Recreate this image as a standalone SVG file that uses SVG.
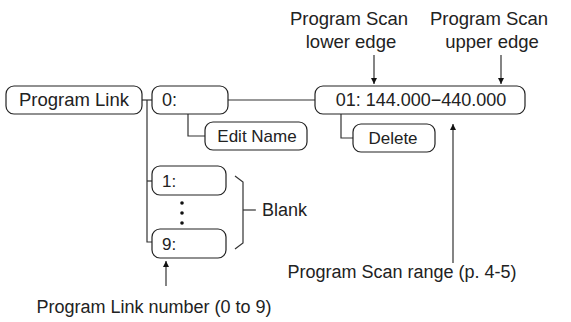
<svg xmlns="http://www.w3.org/2000/svg" width="571" height="322" viewBox="0 0 571 322">
<style>
.box{fill:#fff;stroke:#222;stroke-width:1.2}
.ln{fill:none;stroke:#333;stroke-width:1.2}
.t{font-family:"Liberation Sans",Arial,sans-serif;font-size:18px;fill:#222}
.b{font-size:18.5px}
.s{font-family:"Liberation Sans",Arial,sans-serif;font-size:17px;fill:#222}
.m{text-anchor:middle}
</style>
<defs>
<marker id="ah" viewBox="0 0 10 10" refX="10" refY="5" markerWidth="6" markerHeight="9" markerUnits="userSpaceOnUse" orient="auto">
<path d="M0,0 L10,5 L0,10 Z" fill="#111"/>
</marker>
</defs>
<g id="connectors">
<line class="ln" x1="142" y1="100" x2="152" y2="100"/>
<polyline class="ln" points="147,100 147,242 152,242"/>
<line class="ln" x1="147" y1="181" x2="152" y2="181"/>
<line class="ln" x1="228" y1="100" x2="315" y2="100"/>
<polyline class="ln" points="188,114 188,136 205,136"/>
<polyline class="ln" points="341,114 341,138 353,138"/>
<polyline class="ln" points="235,176 243,182 243,243 235,249"/>
<line class="ln" x1="243" y1="210" x2="256" y2="210"/>
<line class="ln" x1="374" y1="55" x2="374" y2="84" marker-end="url(#ah)"/>
<line class="ln" x1="501" y1="55" x2="501" y2="84" marker-end="url(#ah)"/>
<line class="ln" x1="453" y1="263" x2="453" y2="124" marker-end="url(#ah)"/>
<line class="ln" x1="166" y1="286" x2="166" y2="261" marker-end="url(#ah)"/>
</g>
<g id="program-link"><rect class="box" x="6" y="86" width="136" height="28" rx="8"/><text class="t b m" x="74" y="106">Program Link</text></g>
<g id="link-0"><rect class="box" x="152" y="86" width="76" height="28" rx="8"/><text class="t" x="162" y="106">0:</text></g>
<g id="scan-01"><rect class="box" x="315" y="86" width="210" height="28" rx="8"/><text class="t m" x="421" y="106">01: 144.000−440.000</text></g>
<g id="edit-name"><rect class="box" x="205" y="122" width="102" height="28" rx="8"/><text class="s m" x="257" y="142">Edit Name</text></g>
<g id="delete"><rect class="box" x="353" y="124" width="82" height="28" rx="8"/><text class="s m" x="393" y="144">Delete</text></g>
<g id="link-1"><rect class="box" x="152" y="166" width="74" height="29" rx="8"/><text class="s" x="162" y="187">1:</text></g>
<g id="dots"><circle cx="182" cy="203" r="1.8" fill="#111"/><circle cx="182" cy="213" r="1.8" fill="#111"/><circle cx="182" cy="223" r="1.8" fill="#111"/></g>
<g id="link-9"><rect class="box" x="152" y="229" width="74" height="29" rx="8"/><text class="s" x="162" y="250">9:</text></g>
<g id="labels">
<text class="t" x="262" y="216">Blank</text>
<text class="t b m" x="349" y="25">Program Scan</text>
<text class="t b m" x="351" y="48">lower edge</text>
<text class="t b m" x="489" y="25">Program Scan</text>
<text class="t b m" x="492" y="48">upper edge</text>
<text class="t m" x="402" y="278">Program Scan range (p. 4-5)</text>
<text class="t m" x="154" y="313">Program Link number (0 to 9)</text>
</g>
</svg>
